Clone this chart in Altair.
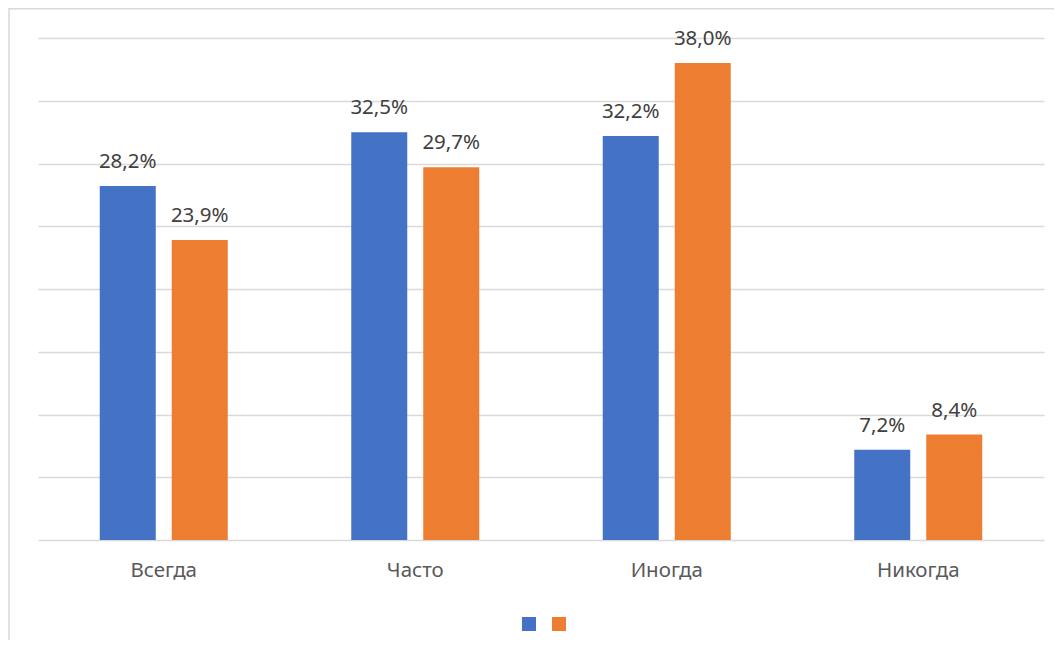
import altair as alt
import pandas as pd

categories = ["Всегда", "Часто", "Иногда", "Никогда"]
series_names = ["Ряд1", "Ряд2"]
series1 = [28.2, 32.5, 32.2, 7.2]
series2 = [23.9, 29.7, 38.0, 8.4]
colors = ["#4472C4", "#ED7D31"]

rows = []
for c, a, b in zip(categories, series1, series2):
    rows.append({"cat": c, "series": series_names[0], "v": a})
    rows.append({"cat": c, "series": series_names[1], "v": b})
df = pd.DataFrame(rows)

FONT = "Noto Sans"

x = alt.X("cat:N", sort=categories, title=None,
          scale=alt.Scale(paddingInner=0, paddingOuter=0),
          axis=alt.Axis(labelAngle=0, labelFontSize=20.5, labelColor="#595959",
                        labelFont=FONT, ticks=False, domain=False, grid=False,
                        labelPadding=20))
xo = alt.XOffset("series:N", sort=series_names,
                 scale=alt.Scale(paddingInner=0.2222, paddingOuter=0.8576))
y = alt.Y("v:Q", title=None,
          scale=alt.Scale(domain=[0, 40], nice=False),
          axis=alt.Axis(values=[0, 5, 10, 15, 20, 25, 30, 35, 40], labels=False,
                        ticks=False, domain=False, grid=True,
                        gridColor="#d9d9d9", gridWidth=1.3))

base = alt.Chart(df)

bars = base.mark_bar().encode(
    x=x, xOffset=xo, y=y,
    color=alt.Color("series:N", sort=series_names,
                    scale=alt.Scale(domain=series_names, range=colors),
                    legend=alt.Legend(title=None, orient="none", direction="horizontal",
                                      legendX=484, legendY=579, symbolType="square",
                                      symbolSize=196, symbolStrokeWidth=0,
                                      labelExpr="''", labelOffset=0, columnPadding=16,
                                      labelFontSize=1, symbolOpacity=1)),
)

labels = base.transform_calculate(
    lbl="replace(format(datum.v, '.1f'), '.', ',') + '%'"
).mark_text(baseline="alphabetic", dy=-18, fontSize=20.5, font=FONT, color="#404040").encode(
    x=x, xOffset=xo, y=y, text="lbl:N"
)

frame = alt.Chart(pd.DataFrame({"a": [0]})).mark_rect(
    fillOpacity=0, stroke="#d9d9d9", strokeWidth=1.5
).encode(
    x=alt.value(-29), x2=alt.value(1200), y=alt.value(-29.2), y2=alt.value(800)
)

chart = alt.layer(frame, bars, labels).properties(
    width=1006, height=502,
    autosize=alt.AutoSizeParams(type="none"),
    padding={"left": 30, "top": 30, "right": 10, "bottom": 100},
).configure(background="white").configure_view(stroke=None)

chart.save("out.html", embed_options={"renderer": "svg", "actions": False})
